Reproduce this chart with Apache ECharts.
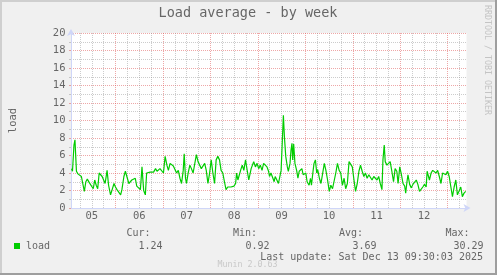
<!DOCTYPE html>
<html><head><meta charset="utf-8">
<script src="https://cdn.jsdelivr.net/npm/echarts@6/dist/echarts.min.js"></script>
<style>html,body{margin:0;padding:0;background:#f0f0f0}#c{width:497px;height:275px}</style>
</head><body><div id="c"></div>
<script>
// ---- data ----
const chartTitle = 'Load average - by week';
const yAxisName = 'load';
const dayLabels = ['05','06','07','08','09','10','11','12'];
const dayLabelHours = [12,36,60,84,108,132,156,180];          // noon of each day (hours since Dec 05 00:00)
const dayGridHours = [24,48,72,96,120,144,168,192];            // midnights
const quarterGridHours = [6,12,18,30,36,42,54,60,66,78,84,90,102,108,114,126,132,138,150,156,162,174,180,186,198];
const loadHours = [
 1.75,2.25,3.0,3.5,4.25,5.0,5.75,6.75,7.5,8.25,9.0,9.75,10.75,11.75,12.75,13.5,14.25,15.0,15.75,16.5,17.25,18.0,18.75,19.75,20.5,21.5,22.25,23.25,24.0,24.75,25.75,26.6,27.25,28.25,29.0,29.75,30.75,31.5,32.25,33.25,34.0,34.75,35.75,36.6,37.4,38.25,39.1,39.75,40.75,
 41.5,42.25,43.25,44.25,45.0,45.75,46.5,47.25,48.25,49.1,50.0,50.75,51.6,52.4,53.25,54.1,54.9,55.75,56.6,57.4,58.25,58.75,59.4,59.9,60.75,61.6,62.4,63.25,64.1,64.9,65.75,66.6,67.4,68.25,69.1,69.9,70.75,71.6,72.4,73.25,74.1,74.9,75.75,76.6,77.4,78.25,79.1,79.9,80.75,81.6,82.4,83.25,
 83.9,84.75,85.25,85.9,86.4,87.25,88.1,88.9,89.75,90.6,91.4,92.25,92.6,93.1,93.9,94.75,95.6,96.4,97.25,98.1,98.9,99.75,100.6,101.4,101.9,102.6,103.6,104.25,104.75,105.6,106.4,107.25,107.75,108.4,108.9,109.4,110.1,110.9,111.4,112.25,112.75,113.25,113.6,114.1,114.75,115.6,116.25,116.9,117.6,118.25,118.9,119.75,120.25,120.9,121.4,121.9,122.6,123.1,123.9,124.4,
 125.1,125.75,126.25,127.1,127.9,128.75,129.6,130.4,131.25,132.1,132.9,133.75,134.6,135.4,136.25,137.1,137.9,138.75,139.6,140.4,141.25,142.1,142.9,143.75,144.6,145.4,146.25,147.1,147.9,148.75,149.6,150.4,151.25,152.1,152.9,153.75,154.6,155.4,156.25,157.1,157.9,158.75,159.25,159.9,160.4,161.25,162.1,162.9,163.75,164.6,165.4,
 166.25,166.9,167.75,168.6,169.4,170.25,170.75,171.4,171.9,172.75,173.6,174.4,175.25,176.1,176.9,177.75,178.6,179.4,180.25,181.1,181.6,182.25,182.75,183.6,184.4,185.25,186.1,186.9,187.75,188.6,189.4,190.25,191.1,191.9,192.75,193.6,194.4,195.25,196.1,196.9,197.75,198.6,199.4,200.25,201.1
];
const loadValues = [
 4.5,4.2,7.2,7.8,4.2,3.9,3.7,3.6,3.4,1.9,3.0,3.3,2.9,3.1,2.2,3.2,2.6,2.2,4.0,4.2,3.6,3.4,2.8,4.3,2.6,1.5,1.7,2.8,2.4,2.1,2.3,1.5,2.1,3.6,4.2,3.6,2.8,2.6,3.2,3.0,3.4,2.5,2.3,2.1,4.7,2.0,1.5,4.0,3.9,
 4.1,4.3,4.1,4.5,4.2,4.3,4.5,4.3,4.0,5.9,4.9,4.3,5.1,5.3,4.8,4.6,4.0,4.3,3.4,2.8,4.3,6.2,3.4,2.8,4.0,4.9,4.5,4.0,3.8,6.1,5.3,5.1,4.5,4.5,5.1,4.3,2.8,4.0,5.5,4.0,2.8,5.5,5.9,5.5,4.3,4.0,3.0,2.1,2.4,2.2,2.4,2.4,
 2.5,2.8,4.0,3.2,3.0,4.3,4.9,4.3,5.5,4.3,3.2,3.0,4.5,4.3,5.3,4.7,5.1,4.5,4.9,4.3,5.1,4.9,4.7,4.2,3.6,4.0,3.4,3.0,3.6,3.2,2.8,2.6,4.3,4.1,10.6,8.2,5.9,4.7,4.2,5.1,6.6,7.4,5.5,7.3,5.1,4.3,3.4,4.2,4.3,4.5,3.8,3.6,4.0,3.0,3.2,2.6,3.4,2.6,4.2,5.1,
 5.5,4.0,4.4,3.4,2.8,2.6,5.1,4.3,3.2,1.9,2.6,2.2,2.1,4.0,5.1,4.3,4.0,2.6,3.4,2.2,2.8,5.3,5.1,4.7,3.2,1.9,2.8,4.2,4.9,4.2,3.6,4.0,3.4,3.8,3.6,3.2,3.6,3.4,3.2,3.6,2.8,2.1,5.5,7.2,5.3,4.9,5.1,5.3,4.2,3.0,4.5,
 4.2,2.8,4.7,3.8,2.8,2.5,1.7,3.0,3.8,2.7,2.3,2.7,2.8,3.2,2.7,1.9,1.7,2.4,2.7,2.4,4.2,4.0,3.2,4.0,4.3,4.2,4.0,4.3,3.6,2.8,4.0,3.8,3.8,4.2,3.6,2.4,1.3,2.4,3.2,1.5,1.5,2.4,1.3,1.7,1.9
];
const seriesName = 'load';
const statNames = ['Cur:','Min:','Avg:','Max:'];
const statValues = ['1.24','0.92','3.69','30.29'];
const lastUpdate = 'Last update: Sat Dec 13 09:30:03 2025';
const vendorText = 'RRDTOOL / TOBI OETIKER';
const versionText = 'Munin 2.0.63';

// ---- styles ----
const MONO = 'DejaVu Sans Mono';
const FONT_C = '#666666';
const AXIS_C = '#CFD6F8';
const GRID_C = 'rgba(143,143,143,0.45)';
const MGRID_C = 'rgba(222,79,79,0.5)';
const LINE_C = '#00cc00';

const chart = echarts.init(document.getElementById('c'), null, {renderer: 'canvas'});

const gridMarks = dayGridHours.map(h => ({xAxis: h, lineStyle: {color: MGRID_C}}))
  .concat(quarterGridHours.map(h => ({xAxis: h, lineStyle: {color: GRID_C}})));

function txt(text, x, y, opts) {
  return Object.assign({
    type: 'text', silent: true,
    style: Object.assign({text, x, y, fill: FONT_C, fontFamily: MONO, fontSize: 10, align: 'left', verticalAlign: 'middle'}, opts || {})
  });
}

const statRightTitle = [150.5, 257, 363, 469.5];
const statRightValue = [162.5, 269.5, 376.5, 483.5];
const graphics = [
  {type: 'rect', shape: {x: 0, y: 0, width: 497, height: 2}, style: {fill: '#cfcfcf'}, silent: true},
  {type: 'rect', shape: {x: 0, y: 0, width: 2, height: 275}, style: {fill: '#cfcfcf'}, silent: true},
  {type: 'rect', shape: {x: 0, y: 273, width: 497, height: 2}, style: {fill: '#9e9e9e'}, silent: true},
  {type: 'rect', shape: {x: 495, y: 0, width: 2, height: 275}, style: {fill: '#9e9e9e'}, silent: true},
  txt(chartTitle, 248, 13.5, {fontSize: 13.5, align: 'center'}),
  {type: 'text', silent: true, x: 487, y: 60, rotation: -Math.PI / 2,
   style: {text: vendorText, x: 0, y: 0, fill: '#c4c4c4', fontFamily: MONO, fontSize: 8.3, align: 'center', verticalAlign: 'middle'}},
  {type: 'rect', shape: {x: 14, y: 243, width: 6, height: 6}, style: {fill: LINE_C}, silent: true},
  txt(seriesName, 26, 246),
  txt(lastUpdate, 483, 257.5, {align: 'right'}),
  txt(versionText, 247.5, 265, {align: 'center', fill: '#c8c8c8', fontSize: 8.3})
];
statNames.forEach((n, i) => {
  graphics.push(txt(n, statRightTitle[i], 233.5, {align: 'right'}));
  graphics.push(txt(statValues[i], statRightValue[i], 246, {align: 'right'}));
});

chart.setOption({
  animation: false,
  backgroundColor: '#f0f0f0',
  grid: {left: 66.5, top: 33, width: 400, height: 175, show: true, backgroundColor: '#ffffff', borderWidth: 0, containLabel: false},
  xAxis: {
    type: 'value', min: 1.5, max: 201.5, interval: 1.5,
    axisLine: {show: true, onZero: false, lineStyle: {color: AXIS_C, width: 1}, symbol: ['none', 'arrow'], symbolSize: [6, 7], symbolOffset: [0, 4]},
    axisTick: {show: false},
    splitLine: {show: false},
    axisLabel: {
      color: FONT_C, fontFamily: MONO, fontSize: 10.5, margin: 3, hideOverlap: false,
      showMinLabel: true, showMaxLabel: true,
      formatter: v => { const i = dayLabelHours.findIndex(h => Math.abs(h - v) < 1e-6); return i < 0 ? '' : dayLabels[i]; }
    }
  },
  yAxis: {
    type: 'value', min: 0, max: 20, interval: 2,
    name: yAxisName, nameLocation: 'middle', nameRotate: 90, nameGap: 52,
    nameTextStyle: {color: FONT_C, fontFamily: MONO, fontSize: 10.5},
    axisLine: {show: true, lineStyle: {color: AXIS_C, width: 1}, symbol: ['none', 'arrow'], symbolSize: [6, 7], symbolOffset: [0, 4]},
    axisTick: {show: true, length: 2, lineStyle: {color: MGRID_C}},
    minorTick: {show: true, splitNumber: 2, length: 2, lineStyle: {color: GRID_C}},
    splitLine: {show: true, lineStyle: {color: MGRID_C, type: [1, 1], width: 1}},
    minorSplitLine: {show: true, lineStyle: {color: GRID_C, type: [1, 1], width: 1}},
    axisLabel: {color: FONT_C, fontFamily: MONO, fontSize: 10.5, margin: 5.5}
  },
  series: [{
    name: seriesName, type: 'line', z: 3,
    data: loadHours.map((h, i) => [h, loadValues[i]]),
    showSymbol: false, symbol: 'none',
    lineStyle: {color: LINE_C, width: 1.2},
    emphasis: {disabled: true},
    silent: true,
    markLine: {
      silent: true, z: 1, animation: false, symbol: ['none', 'none'],
      label: {show: false}, emphasis: {disabled: true},
      lineStyle: {type: [1, 1], width: 1},
      data: gridMarks
    }
  }],
  graphic: graphics
});
</script></body></html>
